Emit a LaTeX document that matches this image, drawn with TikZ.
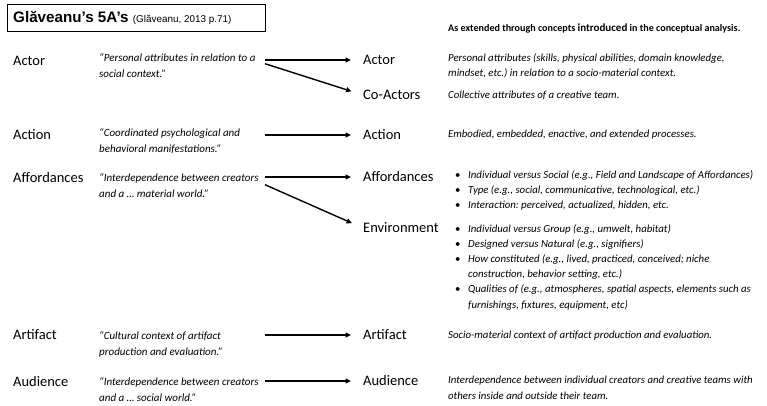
\documentclass[tikz,border=0pt]{standalone}
\usepackage{fontspec}
\setmainfont{Carlito}
\newfontfamily\arialf{Liberation Sans}
\usetikzlibrary{arrows.meta,calc}
\frenchspacing
\begin{document}
\begin{tikzpicture}[x=1pt,y=-1pt,
  lab/.style={anchor=west,inner sep=0pt,font=\fontsize{14.5}{17}\selectfont},
  quote/.style={anchor=north west,inner sep=0pt,align=left,font=\fontsize{11}{16}\selectfont\itshape},
  desc/.style={anchor=north west,inner sep=0pt,align=left,font=\fontsize{10.8}{15.7}\selectfont\itshape},
  blist/.style={anchor=north west,inner sep=0pt,align=left,font=\fontsize{10.8}{15.2}\selectfont\itshape},
  arr/.style={line width=1.4pt,-{Triangle[length=5.5pt,width=5pt]},shorten >=12pt},
  titlebox/.style={draw,line width=0.8pt,minimum width=258pt,minimum height=27pt,anchor=north west,inner sep=0pt}
]
\useasboundingbox (0,0) rectangle (767,405);
\newcommand{\bitem}{\makebox[13pt][l]{\upshape\textbullet}}
\newcommand{\bcont}{\hspace*{13pt}}
% title
\node[titlebox] (tbox) at (7,4) {};
\node[anchor=west,inner sep=0pt] (title) at (13,17.5) {\arialf\bfseries\fontsize{15.2}{16}\selectfont Glăveanu’s 5A’s \mdseries\fontsize{9.9}{12}\selectfont(Glăveanu, 2013 p.71)};
\node[anchor=west,inner sep=0pt,font=\fontsize{10.1}{12}\selectfont\bfseries] (hdr) at (448,28) {As extended through concepts {\fontsize{11}{12}\selectfont introduced} in the conceptual analysis.};
% left labels
\node[lab] (lActor) at (13,61) {Actor};
\node[lab] (lAction) at (13,135) {Action};
\node[lab] (lAfford) at (13,178) {Affordances};
\node[lab] (lArtifact) at (13,335) {Artifact};
\node[lab] (lAudience) at (13,382) {Audience};
% quotes
\node[quote] (qActor) at (99,53.5) {“Personal attributes in relation to a\\ social context.”};
\node[quote] (qAction) at (99,128.5) {“Coordinated psychological and\\ behavioral manifestations.”};
\node[quote] (qAfford) at (99,173.5) {“Interdependence between creators\\ and a … material world.”};
\node[quote] (qArtifact) at (99,331.5) {“Cultural context of artifact\\ production and evaluation.”};
\node[quote] (qAudience) at (99,377.5) {“Interdependence between creators\\ and a … social world.”};
% right labels
\node[lab] (rActor) at (363,60) {Actor};
\node[lab] (rCo) at (363,95) {Co-Actors};
\node[lab] (rAction) at (363,135) {Action};
\node[lab] (rAfford) at (363,177) {Affordances};
\node[lab] (rEnv) at (363,228) {Environment};
\node[lab] (rArtifact) at (363,335) {Artifact};
\node[lab] (rAudience) at (363,381) {Audience};
% descriptions
\node[desc] (dActor) at (448,53) {Personal attributes (skills, physical abilities, domain knowledge,\\ mindset, etc.) in relation to a socio-material context.};
\node[desc] (dCo) at (448,91) {Collective attributes of a creative team.};
\node[desc] (dAction) at (448,130) {Embodied, embedded, enactive, and extended processes.};
\node[blist] (dAfford) at (455,170) {\bitem Individual versus Social (e.g., Field and Landscape of Affordances)\\
\bitem Type (e.g., social, communicative, technological, etc.)\\
\bitem Interaction: perceived, actualized, hidden, etc.};
\node[blist] (dEnv) at (455,224) {\bitem Individual versus Group (e.g., umwelt, habitat)\\
\bitem Designed versus Natural (e.g., signifiers)\\
\bitem How constituted (e.g., lived, practiced, conceived; niche\\
\bcont construction, behavior setting, etc.)\\
\bitem Qualities of (e.g., atmospheres, spatial aspects, elements such as\\
\bcont furnishings, fixtures, equipment, etc)};
\node[desc] (dArtifact) at (448,331) {Socio-material context of artifact production and evaluation.};
\node[desc] (dAudience) at (448,376) {Interdependence between individual creators and creative teams with\\ others inside and outside their team.};
% arrows (start 166pt right of each quote's left edge)
\draw[arr] ([xshift=166pt]qActor.west |- rActor.west) -- (rActor.west);
\draw[arr] ([xshift=166pt,yshift=2pt]qActor.west) -- (rCo.west);
\draw[arr] ([xshift=166pt]qAction.west |- rAction.west) -- (rAction.west);
\draw[arr] ([xshift=166pt]qAfford.west |- rAfford.west) -- (rAfford.west);
\draw[arr] ([xshift=166pt,yshift=1pt]qAfford.west) -- (rEnv.west);
\draw[arr] ([xshift=166pt]qArtifact.west |- rArtifact.west) -- (rArtifact.west);
\draw[arr] ([xshift=166pt]qAudience.west |- rAudience.west) -- (rAudience.west);
\end{tikzpicture}
\end{document}
